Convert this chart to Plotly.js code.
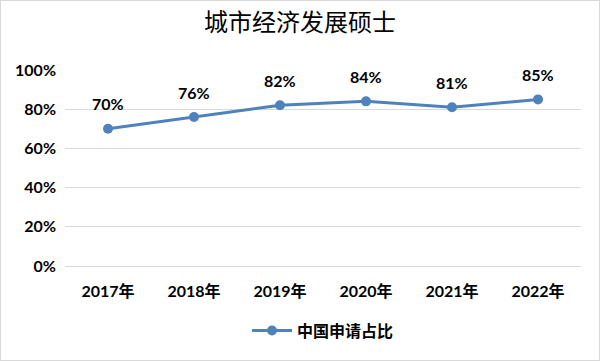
<!DOCTYPE html>
<html>
<head>
<meta charset="utf-8">
<script src="https://cdn.plot.ly/plotly-3.0.1.min.js"></script>
<style>
html,body{margin:0;padding:0;background:#fff;}
#chart{width:598px;height:359px;border:1px solid #d9d9d9;}
</style>
</head>
<body>
<div id="chart"></div>
<script>
const years = ["2017年","2018年","2019年","2020年","2021年","2022年"];
const share = [0.70, 0.76, 0.82, 0.84, 0.81, 0.85];
const labels = ["70%","76%","82%","84%","81%","85%"];
const seriesName = "中国申请占比";
const chartTitle = "城市经济发展硕士";

const fontFam = "Lato, 'Noto Sans CJK SC', sans-serif";
const trace = {
  x: years, y: share, name: seriesName,
  type: "scatter", mode: "lines+markers",
  line: {color: "#4F81BD", width: 3},
  marker: {color: "#4F81BD", size: 10},
  cliponaxis: false
};
const annotations = years.map((yr, i) => ({
  x: yr, y: share[i], xref: "x", yref: "y", text: labels[i], showarrow: false,
  yanchor: "middle", yshift: 25,
  font: {family: fontFam, size: 16, color: "#000", weight: "bold"}
}));
const layout = {
  width: 598, height: 359,
  margin: {l: 64, r: 18, t: 69, b: 92},
  paper_bgcolor: "#fff", plot_bgcolor: "#fff",
  title: {text: chartTitle, x: 0.5, xanchor: "center", y: 0.94, yanchor: "middle",
          font: {family: "'Noto Sans CJK SC', serif", size: 24, color: "#000"}},
  xaxis: {type: "category", range: [-0.5, 5.5], showgrid: false, zeroline: false, showline: false,
          ticks: "", ticklabelstandoff: 14,
          tickfont: {family: fontFam, size: 16, color: "#000", weight: "bold"}},
  yaxis: {range: [0, 1], dtick: 0.2, tickformat: ".0%", showgrid: true, gridcolor: "#d9d9d9",
          gridwidth: 1, zeroline: true, zerolinecolor: "#d9d9d9", showline: false, ticks: "",
          ticklabelstandoff: 8,
          tickfont: {family: fontFam, size: 16, color: "#000", weight: "bold"}},
  annotations: annotations,
  showlegend: true,
  legend: {orientation: "h", x: 0.5, xanchor: "center", y: -0.33, yanchor: "middle",
           itemwidth: 40,
           font: {family: fontFam, size: 16, color: "#000", weight: "bold"}}
};
Plotly.newPlot("chart", [trace], layout, {displayModeBar: false, staticPlot: true});
</script>
</body>
</html>
